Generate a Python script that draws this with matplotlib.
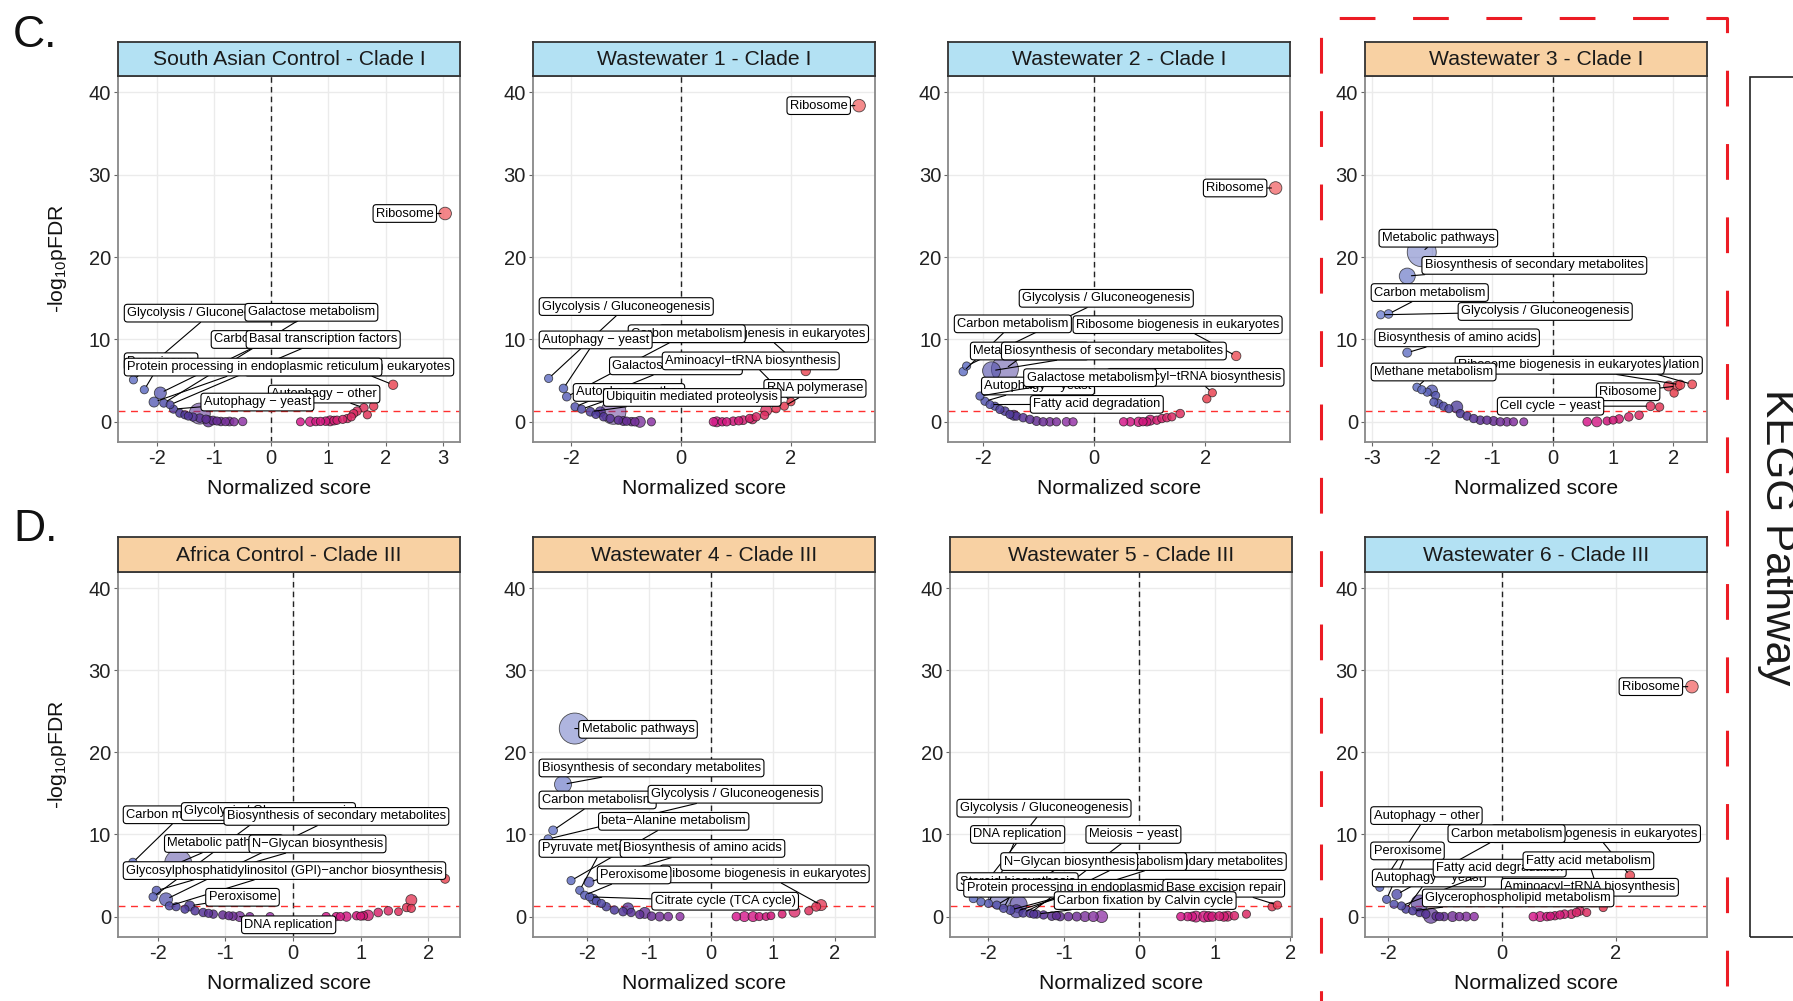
import numpy as np
import matplotlib
matplotlib.use("Agg")
import matplotlib.pyplot as plt
from matplotlib.colors import LinearSegmentedColormap, Normalize
from matplotlib.patches import Rectangle
from matplotlib.lines import Line2D

plt.rcParams["font.family"] = ["Liberation Sans", "DejaVu Sans"]
plt.rcParams["axes.unicode_minus"] = False

W, H = 1793, 1001

# ── Data: one block per panel ─────────────────────────────────────────────────
# first len(TERMS_n) points are the labelled pathways, the rest are background

TITLES = ["South Asian Control - Clade I", "Wastewater 1 - Clade I",
          "Wastewater 2 - Clade I", "Wastewater 3 - Clade I",
          "Africa Control - Clade III", "Wastewater 4 - Clade III",
          "Wastewater 5 - Clade III", "Wastewater 6 - Clade III"]
STRIP_KIND = ["blue", "blue", "blue", "orange", "orange", "orange", "orange", "blue"]

TERMS_1 = ["Glycolysis / Gluconeogenesis", "Galactose metabolism", "Carbon metabolism",
           "Basal transcription factors", "Peroxisome", "Ribosome biogenesis in eukaryotes",
           "Protein processing in endoplasmic reticulum", "Autophagy \u2212 other",
           "Autophagy \u2212 yeast", "Ribosome"]
NES_1 = [-2.41, -1.88, -1.94, -1.77, -2.22, 2.13, -2.05, 1.62, -1.71, 3.04,
         -1.60, -1.51, -1.25, -1.37, -1.25, -1.14, -1.02, -0.88, -0.73, -0.50, -1.45, -1.10,
         -0.95, -0.80, -0.65,
         0.51, 0.68, 0.78, 0.86, 0.95, 1.03, 1.10, 1.15, 1.25, 1.33, 1.44, 1.50, 1.68, 1.79, 1.40]
LOGFDR_1 = [5.1, 2.27, 3.5, 2.07, 3.9, 4.5, 2.4, 1.7, 1.54, 25.3,
            1.05, 0.85, 1.0, 0.58, 0.45, 0.32, 0.16, 0.04, 0.04, 0.04, 0.7, 0.05,
            0.1, 0.02, 0.0,
            0.0, 0.02, 0.03, 0.05, 0.08, 0.12, 0.15, 0.2, 0.3, 0.4, 1.0, 1.3, 0.85, 1.9, 0.6]
GENES_1 = [60, 60, 250, 50, 60, 120, 150, 80, 60, 280,
           60, 60, 700, 70, 80, 70, 90, 80, 90, 70, 60, 200,
           60, 60, 60,
           50, 120, 70, 70, 80, 150, 90, 70, 60, 70, 70, 80, 60, 80, 60]

TERMS_2 = ["Glycolysis / Gluconeogenesis", "Ribosome biogenesis in eukaryotes",
           "Carbon metabolism", "Autophagy \u2212 yeast", "Galactose metabolism",
           "Aminoacyl\u2212tRNA biosynthesis", "RNA polymerase", "Autophagy \u2212 other",
           "Ubiquitin mediated proteolysis", "Ribosome"]
NES_2 = [-2.41, 2.27, -2.08, -2.14, -1.93, 2.00, 1.88, -1.81, -1.65, 3.24,
         -1.47, -1.23, -1.41, -1.29, -1.14, -0.99, -0.84, -0.75, -0.54, -1.55, -1.05, -0.90,
         0.59, 0.65, 0.75, 0.83, 0.95, 1.05, 1.13, 1.25, 1.37, 1.52, 1.55, 1.73, 1.30]
LOGFDR_2 = [5.27, 6.17, 3.05, 4.06, 1.83, 2.44, 1.9, 1.54, 1.22, 38.4,
            1.22, 1.22, 0.61, 0.41, 0.2, 0.08, 0.0, 0.0, 0.0, 0.9, 0.1, 0.02,
            0.0, 0.0, 0.0, 0.0, 0.08, 0.12, 0.2, 0.41, 0.61, 0.8, 1.4, 1.6, 0.3]
GENES_2 = [60, 120, 80, 80, 60, 60, 60, 60, 90, 280,
           150, 900, 70, 70, 70, 70, 70, 200, 60, 60, 100, 80,
           80, 150, 70, 70, 80, 70, 90, 70, 70, 70, 200, 70, 100]

TERMS_3 = ["Glycolysis / Gluconeogenesis", "Ribosome biogenesis in eukaryotes",
           "Carbon metabolism", "Metabolic pathways", "Biosynthesis of secondary metabolites",
           "Aminoacyl\u2212tRNA biosynthesis", "Autophagy \u2212 yeast",
           "Galactose metabolism", "Fatty acid degradation", "Ribosome"]
NES_3 = [-2.30, 2.56, -2.36, -1.61, -1.85, 2.13, -1.97, -2.06, -1.88, 3.27,
         -1.79, -1.70, -1.61, -1.52, -1.40, -1.28, -1.16, -1.04, -0.92, -0.80, -0.68, -0.50,
         -0.38, -1.45,
         0.53, 0.65, 0.80, 0.95, 1.01, 1.13, 1.22, 1.31, 1.40, 1.55, 2.03, 0.88]
LOGFDR_3 = [6.78, 8.0, 6.1, 6.4, 6.2, 3.53, 2.5, 3.13, 2.1, 28.4,
            1.9, 1.5, 1.3, 0.9, 0.7, 0.5, 0.3, 0.1, 0.0, 0.0, 0.0, 0.0,
            0.0, 0.8,
            0.0, 0.0, 0.0, 0.0, 0.2, 0.2, 0.4, 0.5, 0.6, 1.0, 2.8, 0.02]
GENES_3 = [60, 120, 80, 1000, 550, 60, 60, 60, 50, 280,
           60, 60, 80, 60, 70, 70, 70, 100, 70, 80, 60, 80,
           60, 150,
           70, 80, 120, 70, 150, 70, 70, 70, 60, 80, 70, 70]

TERMS_4 = ["Metabolic pathways", "Biosynthesis of secondary metabolites", "Carbon metabolism",
           "Glycolysis / Gluconeogenesis", "Biosynthesis of amino acids",
           "Oxidative phosphorylation", "Ribosome biogenesis in eukaryotes",
           "Methane metabolism", "Ribosome", "Cell cycle \u2212 yeast"]
NES_4 = [-2.17, -2.41, -2.72, -2.85, -2.41, 2.31, 2.11, -2.25, 2.06, 1.62,
         -2.08, -2.00, -1.94, -1.97, -1.89, -1.81, -1.72, -1.59, -1.53, -1.42, -1.31, -1.20,
         -1.09, -0.98, -0.87, -0.76, -0.65, -0.48, -2.17,
         0.57, 0.73, 0.90, 1.00, 1.10, 1.26, 1.43, 1.77, 1.92, 2.01]
LOGFDR_4 = [20.6, 17.7, 13.1, 13.0, 8.4, 4.55, 4.5, 4.2, 4.35, 1.9,
            3.6, 3.8, 3.2, 2.4, 2.2, 1.9, 1.6, 1.8, 1.0, 0.7, 0.4, 0.2,
            0.2, 0.1, 0.0, 0.0, 0.0, 0.0, 3.9,
            0.0, 0.0, 0.1, 0.2, 0.35, 0.6, 0.8, 1.8, 4.35, 3.5]
GENES_4 = [1100, 450, 80, 60, 100, 90, 120, 60, 150, 100,
           60, 200, 60, 60, 70, 70, 60, 250, 70, 70, 70, 80,
           70, 100, 70, 80, 60, 50, 60,
           80, 150, 60, 50, 80, 80, 80, 70, 150, 70]

TERMS_5 = ["Carbon metabolism", "Glycolysis / Gluconeogenesis",
           "Biosynthesis of secondary metabolites", "Metabolic pathways",
           "N\u2212Glycan biosynthesis",
           "Glycosylphosphatidylinositol (GPI)\u2212anchor biosynthesis",
           "Peroxisome", "DNA replication"]
NES_5 = [-2.37, -2.07, -1.88, -1.70, -2.02, -1.83, -1.53, -0.79,
         -1.73, -1.60, -1.45, -1.33, -1.18, -1.04, -0.89, -0.64, -0.34, -1.25, -0.95,
         0.49, 0.64, 0.79, 0.94, 1.04, 1.11, 1.26, 1.41, 1.56, 1.68, 1.75, 1.75, 2.25, 0.70, 1.00]
LOGFDR_5 = [6.6, 2.4, 2.1, 6.5, 3.16, 1.3, 1.3, 0.0,
            1.2, 0.9, 0.7, 0.5, 0.3, 0.2, 0.05, 0.0, 0.0, 0.4, 0.1,
            0.0, 0.0, 0.0, 0.1, 0.1, 0.15, 0.5, 0.7, 0.6, 1.1, 2.0, 1.0, 4.6, 0.0, 0.05]
GENES_5 = [70, 70, 300, 1000, 90, 60, 150, 150,
           60, 60, 70, 70, 70, 70, 80, 60, 60, 60, 60,
           70, 70, 120, 70, 80, 180, 80, 80, 40, 70, 200, 60, 100, 60, 60]

TERMS_6 = ["Metabolic pathways", "Biosynthesis of secondary metabolites", "Carbon metabolism",
           "Glycolysis / Gluconeogenesis", "beta\u2212Alanine metabolism",
           "Pyruvate metabolism", "Biosynthesis of amino acids",
           "Ribosome biogenesis in eukaryotes", "Peroxisome", "Citrate cycle (TCA cycle)"]
NES_6 = [-2.20, -2.39, -2.55, -2.63, -2.26, -2.12, -1.97, 1.78, -2.04, -1.96,
         -1.85, -1.77, -1.69, -1.56, -1.42, -1.34, -1.29, -1.15, -1.07, -0.96, -0.83, -0.69,
         -0.50, -1.90,
         0.41, 0.54, 0.68, 0.78, 0.89, 0.97, 1.15, 1.35, 1.58, 1.70]
LOGFDR_6 = [22.9, 16.1, 10.5, 9.45, 4.38, 3.2, 4.2, 1.4, 2.6, 2.4,
            1.9, 1.6, 1.2, 0.8, 0.6, 1.0, 0.5, 0.25, 0.45, 0.05, 0.0, 0.0,
            0.0, 2.1,
            0.0, 0.0, 0.0, 0.0, 0.0, 0.1, 0.3, 0.6, 0.7, 1.2]
GENES_6 = [1200, 500, 90, 70, 60, 60, 150, 200, 60, 60,
           60, 60, 70, 70, 80, 200, 70, 70, 200, 80, 100, 80,
           60, 150,
           80, 150, 150, 60, 40, 40, 50, 200, 60, 100]

TERMS_7 = ["Glycolysis / Gluconeogenesis", "DNA replication", "Meiosis \u2212 yeast",
           "Biosynthesis of secondary metabolites", "Carbon metabolism",
           "N\u2212Glycan biosynthesis", "Steroid biosynthesis",
           "Protein processing in endoplasmic reticulum", "Base excision repair",
           "Carbon fixation by Calvin cycle"]
NES_7 = [-2.20, -2.00, -1.45, -1.63, -1.54, -1.89, -1.80, -1.71, 1.83, -1.36,
         -1.85, -1.60, -1.27, -1.16, -1.05, -0.94, -0.83, -0.72, -0.61, -0.50, -1.10, -1.40,
         -2.10,
         0.55, 0.64, 0.75, 0.86, 0.97, 1.06, 1.17, 1.26, 1.42, 1.76, 0.70, 0.92, 1.12]
LOGFDR_7 = [2.2, 1.6, 0.4, 0.65, 0.45, 1.4, 1.0, 0.8, 1.4, 0.3,
            2.3, 1.5, 0.2, 0.05, 0.0, 0.0, 0.0, 0.0, 0.0, 0.0, 0.1, 0.3,
            1.8,
            0.0, 0.0, 0.0, 0.0, 0.0, 0.05, 0.05, 0.1, 0.3, 1.2, 0.0, 0.0, 0.0]
GENES_7 = [70, 60, 60, 300, 80, 60, 60, 100, 60, 60,
           800, 500, 70, 80, 80, 80, 100, 150, 150, 250, 60, 60,
           60,
           70, 80, 200, 200, 120, 100, 150, 80, 60, 70, 100, 150, 120]

TERMS_8 = ["Autophagy \u2212 other", "Ribosome biogenesis in eukaryotes", "Carbon metabolism",
           "Peroxisome", "Autophagy \u2212 yeast", "Fatty acid degradation",
           "Fatty acid metabolism", "Aminoacyl\u2212tRNA biosynthesis",
           "Glycerophospholipid metabolism", "Ribosome"]
NES_8 = [-2.15, 2.25, -1.85, -2.03, -1.69, -1.77, 1.78, 1.37, -1.57, 3.34,
         -1.45, -1.45, -1.34, -1.25, -1.16, -1.02, -0.87, -0.75, -0.63, -0.49, -1.90, -1.10,
         0.55, 0.67, 0.79, 0.93, 1.02, 1.10, 1.22, 1.31, 1.49, 0.85]
LOGFDR_8 = [3.57, 5.0, 2.7, 2.1, 0.9, 1.3, 1.1, 0.7, 0.7, 28.0,
            1.6, 0.5, 0.3, 0.1, 0.05, 0.0, 0.0, 0.0, 0.0, 0.0, 1.5, 0.0,
            0.0, 0.0, 0.0, 0.1, 0.2, 0.3, 0.3, 0.5, 0.5, 0.05]
GENES_8 = [60, 120, 150, 60, 60, 60, 60, 100, 60, 280,
           500, 70, 70, 400, 70, 80, 150, 70, 100, 70, 60, 60,
           80, 150, 80, 70, 70, 80, 90, 80, 60, 60]

# ── Layout: where each label box sits (x of text edge, y centre, alignment) ───

LABEL_AT_1 = [(-2.52, 13.2, "left"), (-0.41, 13.3, "left"), (-1.00, 10.0, "left"),
              (-0.39, 10.0, "left"), (-2.52, 7.3, "left"), (3.14, 6.65, "right"),
              (-2.52, 6.65, "left"), (0.00, 3.37, "left"), (-1.18, 2.4, "left"),
              (1.83, 25.3, "left")]
LABEL_AT_2 = [(-2.53, 14.0, "left"), (3.36, 10.7, "right"), (-0.91, 10.7, "left"),
              (-2.53, 9.95, "left"), (-1.25, 6.8, "left"), (-0.29, 7.4, "left"),
              (1.56, 4.06, "left"), (-1.91, 3.57, "left"), (-1.36, 2.96, "left"),
              (1.98, 38.4, "left")]
LABEL_AT_3 = [(-1.30, 15.0, "left"), (-0.33, 11.8, "left"), (-2.47, 11.9, "left"),
              (-2.18, 8.6, "left"), (-1.62, 8.6, "left"), (3.37, 5.4, "right"),
              (-1.98, 4.35, "left"), (-1.22, 5.36, "left"), (-1.10, 2.12, "left"),
              (2.02, 28.4, "left")]
LABEL_AT_4 = [(-2.83, 22.3, "left"), (-2.12, 19.0, "left"), (-2.96, 15.7, "left"),
              (-1.52, 13.4, "left"), (-2.90, 10.2, "left"), (2.43, 6.87, "right"),
              (-1.57, 6.87, "left"), (-2.96, 6.05, "left"), (0.77, 3.65, "left"),
              (-0.87, 1.9, "left")]
LABEL_AT_5 = [(-2.47, 12.4, "left"), (-1.61, 12.8, "left"), (-0.98, 12.2, "left"),
              (-1.86, 8.9, "left"), (-0.61, 8.85, "left"), (-2.47, 5.6, "left"),
              (-1.25, 2.35, "left"), (-0.72, -1.0, "left")]
LABEL_AT_6 = [(-2.09, 22.8, "left"), (-2.73, 18.1, "left"), (-2.73, 14.2, "left"),
              (-0.97, 14.9, "left"), (-1.77, 11.6, "left"), (-2.73, 8.3, "left"),
              (-1.42, 8.3, "left"), (2.51, 5.2, "right"), (-1.79, 5.07, "left"),
              (-0.91, 1.87, "left")]
LABEL_AT_7 = [(-2.38, 13.2, "left"), (-2.20, 10.0, "left"), (-0.67, 10.0, "left"),
              (1.91, 6.7, "right"), (0.59, 6.7, "right"), (-1.80, 6.7, "left"),
              (-2.38, 4.26, "left"), (-2.29, 3.45, "left"), (0.35, 3.45, "left"),
              (-1.09, 1.95, "left")]
LABEL_AT_8 = [(-2.26, 12.3, "left"), (3.44, 10.1, "right"), (-0.90, 10.1, "left"),
              (-2.26, 8.0, "left"), (-2.23, 4.7, "left"), (-1.16, 5.9, "left"),
              (0.42, 6.8, "left"), (0.04, 3.57, "left"), (-1.35, 2.27, "left"),
              (2.11, 28.0, "left")]

# axes boxes in pixels (left, top, right, bottom) and x ranges
PANEL_PX = [(118, 76, 460, 442), (532.7, 76, 875, 442), (948.3, 76, 1290, 442),
            (1365, 76, 1707.3, 442), (118, 571.7, 460, 936.7), (533.3, 571.7, 875, 936.7),
            (950, 571.7, 1291.7, 936.7), (1365, 571.7, 1706.7, 936.7)]
XLIMS = [(-2.68, 3.30), (-2.70, 3.53), (-2.63, 3.53), (-3.11, 2.56),
         (-2.59, 2.47), (-2.87, 2.65), (-2.51, 2.02), (-2.41, 3.60)]
XTICKS = [[-2, -1, 0, 1, 2, 3], [-2, 0, 2], [-2, 0, 2], [-3, -2, -1, 0, 1, 2],
          [-2, -1, 0, 1, 2], [-2, -1, 0, 1, 2], [-2, -1, 0, 1, 2], [-2, 0, 2]]
STRIP_H = 34.5

STRIP_COL = {"blue": "#b3e1f3", "orange": "#f8d1a3"}
# colour ramp on normalised score, stops at NES -3 … 3.4
CMAP = LinearSegmentedColormap.from_list("nes", [
    (0.00, "#7d8ed6"), (0.125, "#5f6cc0"), (0.22, "#4b3a9a"), (0.31, "#642c92"),
    (0.41, "#9a38aa"), (0.53, "#d81c92"), (0.62, "#d0157a"), (0.70, "#dc2d62"),
    (0.78, "#e8404f"), (1.00, "#f26868")])
NORM = Normalize(-3.0, 3.4)


def rect(l, t, r, b):
    return [l / W, 1 - b / H, (r - l) / W, (b - t) / H]


def draw_panel(ax, nes, logfdr, genes, terms, label_at):
    nes, logfdr, genes = map(np.asarray, (nes, logfdr, genes))
    diam = 7 + 0.02 * genes                       # pixels
    size = (diam * 0.72) ** 2
    cols = CMAP(NORM(nes))
    cols[:, 3] = np.clip(0.88 - genes / 2200, 0.5, 0.85)
    order = np.argsort(-genes, kind="stable")
    ax.scatter(nes[order], logfdr[order], s=size[order], c=cols[order],
               edgecolors=(0.1, 0.1, 0.1, 0.75), linewidths=0.6, zorder=3)

    ax.axvline(0, color="#222", lw=1.0, ls=(0, (4, 3)), zorder=2)
    ax.axhline(-np.log10(0.05), color="#ff3030", lw=1.0, ls=(0, (5, 4)), zorder=2)

    for i, (name, (lx, ly, ha)) in enumerate(zip(terms, label_at)):
        ax.annotate(name, xy=(nes[i], logfdr[i]), xytext=(lx, ly), textcoords="data",
                    ha=ha, va="center", fontsize=9.3, color="black", zorder=5,
                    annotation_clip=False,
                    bbox=dict(boxstyle="round,pad=0.22,rounding_size=0.25",
                              fc="white", ec="black", lw=0.8),
                    arrowprops=dict(arrowstyle="-", color="black", lw=0.8,
                                    shrinkA=0, shrinkB=3))


fig = plt.figure(figsize=(W / 100, H / 100), dpi=100, facecolor="white")

panels = [
    (NES_1, LOGFDR_1, GENES_1, TERMS_1, LABEL_AT_1),
    (NES_2, LOGFDR_2, GENES_2, TERMS_2, LABEL_AT_2),
    (NES_3, LOGFDR_3, GENES_3, TERMS_3, LABEL_AT_3),
    (NES_4, LOGFDR_4, GENES_4, TERMS_4, LABEL_AT_4),
    (NES_5, LOGFDR_5, GENES_5, TERMS_5, LABEL_AT_5),
    (NES_6, LOGFDR_6, GENES_6, TERMS_6, LABEL_AT_6),
    (NES_7, LOGFDR_7, GENES_7, TERMS_7, LABEL_AT_7),
    (NES_8, LOGFDR_8, GENES_8, TERMS_8, LABEL_AT_8),
]

for k, (nes, fdr, genes, terms, lab) in enumerate(panels):
    l, t, r, b = PANEL_PX[k]
    ax = fig.add_axes(rect(l, t, r, b))
    ax.set_facecolor("white")
    draw_panel(ax, nes, fdr, genes, terms, lab)
    ax.set_xlim(*XLIMS[k])
    ax.set_ylim(-2.45, 42.0)
    ax.set_xticks(XTICKS[k])
    ax.set_yticks([0, 10, 20, 30, 40])
    ax.grid(True, color="#ebebeb", lw=1.0)
    ax.set_axisbelow(True)
    for sp in ax.spines.values():
        sp.set_edgecolor("#888")
        sp.set_linewidth(1.3)
    ax.tick_params(length=3, width=0.8, color="#666", labelsize=14.5,
                   labelcolor="#222", pad=2)
    ax.set_xlabel("Normalized score", fontsize=15.2, color="#111", labelpad=8)
    if k in (0, 4):
        ax.set_ylabel(r"-log$_{\mathregular{10}}$pFDR", fontsize=15.2, color="#111",
                      labelpad=14)

    sx = fig.add_axes(rect(l, t - STRIP_H, r, t))
    sx.set_facecolor(STRIP_COL[STRIP_KIND[k]])
    sx.set_xticks([])
    sx.set_yticks([])
    for sp in sx.spines.values():
        sp.set_edgecolor("#333")
        sp.set_linewidth(1.3)
    sx.text(0.5, 0.47, TITLES[k], ha="center", va="center", fontsize=15.2,
            color="#1a1a1a", transform=sx.transAxes)

# panel letters
fig.text(13 / W, 1 - 47 / H, "C.", fontsize=32, va="baseline", ha="left", color="#111")
fig.text(13 / W, 1 - 541 / H, "D.", fontsize=32, va="baseline", ha="left", color="#111")

# red dashed highlight round the right column
x0, x1, ytop, ybot = 1321 / W, 1726.7 / W, 1 - 17.7 / H, -0.02
fig.add_artist(Line2D([x0, x0, x1, x1], [ybot, ytop, ytop, ybot], transform=fig.transFigure,
                      color="#ec1c24", lw=2.2, ls=(8, (11.7, 12.3)), solid_capstyle="butt"))

# KEGG Pathway side strip
fig.add_artist(Rectangle((1750 / W, 1 - 936.7 / H), 60 / W, (936.7 - 77) / H,
                         transform=fig.transFigure, fill=False, ec="#222", lw=1.2,
                         clip_on=False))
fig.text(1777 / W, 1 - 537 / H, "KEGG Pathway", rotation=270, fontsize=30.5,
         ha="center", va="center", color="#1a1a1a")

fig.savefig("out.png", dpi=100, facecolor="white")
